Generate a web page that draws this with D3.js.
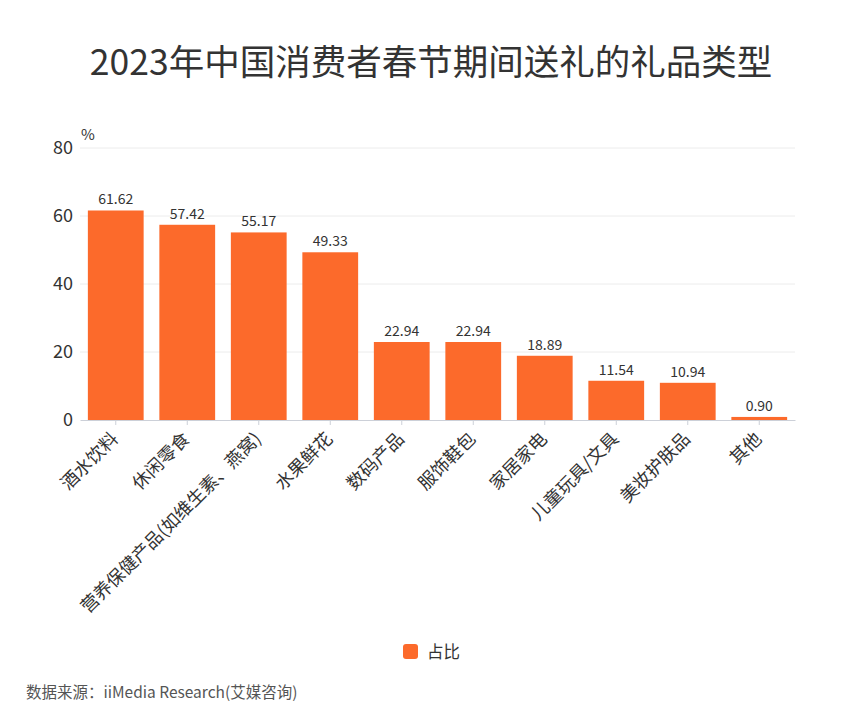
<!DOCTYPE html>
<html><head><meta charset="utf-8">
<script src="https://cdn.jsdelivr.net/npm/d3@7"></script>
<style>body{margin:0;background:#fff;font-family:"Noto Sans CJK SC","Noto Sans",sans-serif;}</style>
</head><body><svg id="c" width="859" height="709"></svg>
<script>
const categories = ["酒水饮料","休闲零食","营养保健产品(如维生素、燕窝)","水果鲜花","数码产品","服饰鞋包","家居家电","儿童玩具/文具","美妆护肤品","其他"];
const values = [61.62,57.42,55.17,49.33,22.94,22.94,18.89,11.54,10.94,0.90];
const yTicks = [0,20,40,60,80];
const seriesName = "占比";
const title = "2023年中国消费者春节期间送礼的礼品类型";
const source = "数据来源：iiMedia Research(艾媒咨询)";

const svg = d3.select("#c");
const F = '"Noto Sans CJK SC","Noto Sans",sans-serif';
const color = "#FC6A2B";
const m = {l:80, r:795, t:148, b:420};
const x = d3.scaleBand().domain(categories).range([m.l, m.r]).paddingInner(0.22).paddingOuter(0.11);
const y = d3.scaleLinear().domain([0,80]).range([m.b, m.t]);

svg.append("text").attr("x",431).attr("y",75).attr("text-anchor","middle")
  .attr("font-family",F).attr("font-size",35.5).attr("fill","#333").text(title);

// grid
svg.append("g").selectAll("line").data(yTicks.filter(d=>d>0)).join("line")
  .attr("x1",m.l).attr("x2",m.r).attr("y1",d=>y(d)).attr("y2",d=>y(d))
  .attr("stroke","#ececec").attr("stroke-width",1);

// y labels
svg.append("g").selectAll("text").data(yTicks).join("text")
  .attr("x",73).attr("y",d=>y(d)).attr("dy","0.36em").attr("text-anchor","end")
  .attr("font-family",F).attr("font-size",18).attr("fill","#333").text(d=>d);
svg.append("text").attr("x",81).attr("y",140).attr("font-family",F).attr("font-size",15).attr("fill","#333").text("%");

// bars
svg.append("g").selectAll("rect").data(values).join("rect")
  .attr("x",(d,i)=>x(categories[i])).attr("width",x.bandwidth())
  .attr("y",d=>y(d)).attr("height",d=>y(0)-y(d)).attr("fill",color);

svg.append("g").selectAll("text").data(values).join("text")
  .attr("x",(d,i)=>x(categories[i])+x.bandwidth()/2).attr("y",d=>y(d)-6)
  .attr("text-anchor","middle").attr("font-family",F).attr("font-size",14).attr("fill","#333")
  .text(d=>d.toFixed(2));

// x axis
const xa = svg.append("g").attr("transform",`translate(0,${m.b})`)
  .call(d3.axisBottom(x).tickSize(5).tickSizeOuter(0));
xa.select(".domain").attr("stroke","#ccd0d8");
xa.selectAll(".tick line").attr("stroke","#ccd0d8");
xa.selectAll(".tick text").attr("font-family",F).attr("font-size",18).attr("fill","#333")
  .attr("text-anchor","end").attr("x",0).attr("y",0).attr("dx",-6).attr("dy",11)
  .attr("transform","translate(0,8) rotate(-45)");

// legend
svg.append("rect").attr("x",403).attr("y",644).attr("width",15).attr("height",15).attr("rx",3).attr("fill",color);
svg.append("text").attr("x",427).attr("y",652).attr("dy","0.36em").attr("font-family",F).attr("font-size",16.5).attr("fill","#333").text(seriesName);

svg.append("text").attr("x",26).attr("y",698).attr("font-family",F).attr("font-size",15.5).attr("fill","#555").text(source);
</script></body></html>
